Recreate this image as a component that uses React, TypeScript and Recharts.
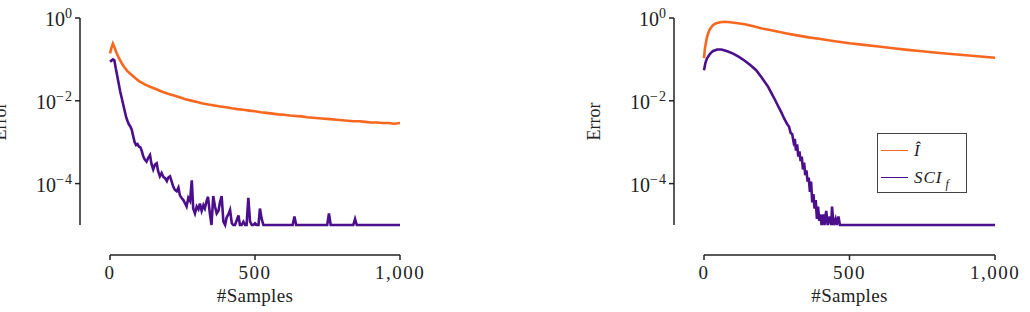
import { LineChart, Line, XAxis, YAxis } from 'recharts';

// left panel: estimator error vs #samples
const leftSamplesI = [0, 5, 10, 15, 20, 30, 40, 50, 60, 70, 80, 90, 100, 120, 140, 160, 180, 200, 220, 240, 260, 280, 300, 320, 340, 360, 380, 400, 420, 440, 460, 480, 500, 520, 540, 560, 580, 600, 620, 640, 660, 680, 700, 720, 740, 760, 780, 800, 820, 840, 860, 880, 900, 920, 940, 960, 980, 1000];
const leftErrI = [0.14, 0.19, 0.24, 0.2, 0.16, 0.11, 0.082, 0.064, 0.052, 0.045, 0.039, 0.034, 0.03, 0.025, 0.0215, 0.019, 0.0165, 0.0148, 0.0135, 0.0122, 0.0109, 0.0101, 0.0094, 0.0086, 0.0081, 0.0077, 0.0073, 0.007, 0.0066, 0.0063, 0.0061, 0.0058, 0.0056, 0.0053, 0.0051, 0.0049, 0.0047, 0.0046, 0.0044, 0.0043, 0.0042, 0.004, 0.0039, 0.0038, 0.0037, 0.0036, 0.0035, 0.0034, 0.0033, 0.0032, 0.0032, 0.0031, 0.003, 0.003, 0.0029, 0.0029, 0.0028, 0.0029];

const leftSamplesS = [0, 10, 15, 20, 25, 30, 35, 40, 45, 50, 55, 60, 65, 70, 75, 80, 85, 90, 95, 100, 105, 110, 115, 120, 126, 132, 138, 143, 149, 155, 161, 166, 172, 178, 184, 190, 196, 201, 207, 213, 218, 224, 230, 236, 241, 247, 253, 259, 264, 270, 276, 282, 287, 293, 299, 305, 310, 316, 322, 327, 333, 338, 344, 350, 356, 362, 368, 374, 379, 385, 391, 397, 402, 408, 414, 420, 425, 431, 437, 443, 448, 454, 460, 466, 471, 477, 483, 489, 494, 500, 506, 512, 517, 523, 529, 535, 630, 636, 642, 749, 755, 761, 839, 845, 851, 1000];
const leftErrS = [0.088, 0.1, 0.095, 0.06, 0.04, 0.026, 0.017, 0.012, 0.0085, 0.006, 0.0042, 0.0033, 0.0027, 0.0024, 0.002, 0.0014, 0.001, 0.00085, 0.0009, 0.00078, 0.00075, 0.0006, 0.00045, 0.00038, 0.00034, 0.00042, 0.00049, 0.0003, 0.00022, 0.00029, 0.00031, 0.0002, 0.00015, 0.00018, 0.000145, 0.000135, 0.000115, 0.00014, 0.00015, 0.00011, 0.000085, 0.00007, 0.000065, 0.00008, 0.000052, 0.000045, 0.00004, 0.000033, 0.000028, 0.000045, 0.000038, 0.00012, 0.000025, 0.000019, 0.000028, 0.000024, 0.000033, 0.000022, 0.00003, 0.000025, 0.000038, 0.000048, 0.00002, 0.00001, 0.00005, 0.000028, 0.000019, 0.000022, 0.000035, 0.00005, 0.000012, 0.00001, 0.000015, 0.000018, 0.000023, 0.000011, 0.00001, 0.00001, 0.000013, 0.000017, 0.00001, 0.00001, 0.000012, 0.00001, 0.00001, 0.000045, 0.000012, 0.00001, 0.00001, 0.000011, 0.00001, 0.00001, 0.000025, 0.000014, 0.00001, 0.00001, 0.00001, 0.000016, 0.00001, 0.00001, 0.000019, 0.00001, 0.00001, 0.000014, 0.00001, 0.00001];

// right panel
const rightSamplesI = [0, 3, 6, 10, 15, 20, 30, 40, 55, 70, 90, 110, 140, 170, 200, 240, 280, 320, 360, 400, 450, 500, 550, 600, 650, 700, 750, 800, 850, 900, 950, 1000];
const rightErrI = [0.107, 0.178, 0.24, 0.34, 0.44, 0.54, 0.66, 0.74, 0.79, 0.81, 0.79, 0.76, 0.71, 0.63, 0.56, 0.49, 0.43, 0.38, 0.34, 0.31, 0.275, 0.245, 0.224, 0.204, 0.186, 0.17, 0.158, 0.145, 0.135, 0.126, 0.117, 0.11];

const rightSamplesS = [0, 5, 10, 20, 30, 45, 60, 80, 100, 120, 140, 160, 180, 200, 220, 240, 255, 265, 275, 285, 292, 298, 303, 308, 312, 316, 320, 324, 328, 332, 336, 340, 344, 348, 352, 356, 360, 364, 368, 372, 376, 380, 384, 388, 392, 396, 400, 404, 410, 414, 420, 425, 432, 437, 440, 445, 452, 456, 462, 467, 1000];
const rightErrS = [0.055, 0.083, 0.105, 0.135, 0.158, 0.174, 0.174, 0.158, 0.138, 0.115, 0.093, 0.072, 0.054, 0.035, 0.022, 0.012, 0.0074, 0.0054, 0.0038, 0.0028, 0.0024, 0.00166, 0.00158, 0.001, 0.0012, 0.00063, 0.00089, 0.00045, 0.0006, 0.00035, 0.00045, 0.00022, 0.00032, 0.00016, 0.00021, 0.000112, 0.00014, 0.000063, 0.000112, 0.000035, 0.000056, 0.000025, 0.00004, 0.000014, 0.000028, 0.0000126, 0.000018, 0.00001, 0.000018, 0.00001, 0.000022, 0.00001, 0.000016, 0.00001, 0.000028, 0.00001, 0.000014, 0.00001, 0.000016, 0.00001, 0.00001];

const xTicks = [0, 500, 1000];
const yTicks = [1, 0.01, 0.0001];

const ORANGE = '#f8671f';
const PURPLE = '#4b0f8c';
const AXIS = '#222';
const FONT = '"Liberation Serif", serif';
const OFF = 30; // spine offset, like despine(offset=...)

const zip = (xs: number[], ys: number[]) => xs.map((x, i) => ({ x, y: ys[i] }));

function YTick({ x, y, payload }: any) {
  const exp = Math.round(Math.log10(payload.value));
  const ax = x - OFF;
  return (
    <g>
      <line x1={ax - 5} x2={ax} y1={y} y2={y} stroke={AXIS} strokeWidth={1.5} />
      <text x={ax - 7} y={y + 8} textAnchor="end" fontFamily={FONT} fontSize={20} fill="#222">
        10<tspan dy={-8} fontSize={14} letterSpacing={1}>{exp === 0 ? '0' : '\u2212' + Math.abs(exp)}</tspan>
      </text>
    </g>
  );
}

function XTick({ x, y, payload }: any) {
  const ay = y + OFF;
  return (
    <g>
      <line x1={x} x2={x} y1={ay} y2={ay + 5} stroke={AXIS} strokeWidth={1.5} />
      <text x={x} y={ay + 24} textAnchor="middle" fontFamily={FONT} fontSize={19} letterSpacing={1.5} fill="#222">
        {payload.value.toLocaleString('en-US')}
      </text>
    </g>
  );
}

function XLabel({ viewBox }: any) {
  return (
    <text x={viewBox.x + viewBox.width / 2} y={viewBox.y + 77} textAnchor="middle" fontFamily={FONT} fontSize={19} letterSpacing={0.3} fill="#222">
      #Samples
    </text>
  );
}

function YLabel({ viewBox }: any) {
  const cx = viewBox.x;
  const cy = viewBox.y + viewBox.height / 2;
  return (
    <text x={cx} y={cy} transform={`rotate(-90 ${cx} ${cy})`} textAnchor="middle" dominantBaseline="central" fontFamily={FONT} fontSize={18} fill="#222">
      Error
    </text>
  );
}

function Panel({ dataI, dataS, left }: { dataI: any[]; dataS: any[]; left: number }) {
  return (
    <LineChart width={515} height={312} margin={{ top: 18, right: left === 0 ? 115 : 35, bottom: 0, left: left === 0 ? 0 : 79 }}>
      <XAxis
        dataKey="x"
        type="number"
        domain={[0, 1000]}
        ticks={xTicks}
        height={87}
        tickSize={0}
        tickMargin={0}
        tickLine={false}
        tick={<XTick />}
        axisLine={{ stroke: AXIS, strokeWidth: 1.5, transform: `translate(0 ${OFF})` }}
        label={<XLabel />}
      />
      <YAxis
        dataKey="y"
        scale="log"
        domain={[0.00001, 1]}
        ticks={yTicks}
        width={110}
        tickSize={0}
        tickMargin={0}
        tickLine={false}
        tick={<YTick />}
        axisLine={{ stroke: AXIS, strokeWidth: 1.5, transform: `translate(${-OFF} 0)` }}
        label={<YLabel />}
      />
      <Line data={dataI} dataKey="y" stroke={ORANGE} strokeWidth={2.6} dot={false} isAnimationActive={false} />
      <Line data={dataS} dataKey="y" stroke={PURPLE} strokeWidth={2.6} dot={false} isAnimationActive={false} />
    </LineChart>
  );
}

function LegendBox() {
  const row = (color: string, label: any, top: number) => (
    <div style={{ position: 'absolute', left: 0, top, width: 90, height: 20 }}>
      <div style={{ position: 'absolute', left: 3, top: 9, width: 27, height: 0, borderTop: `1.5px solid ${color}` }} />
      <div style={{ position: 'absolute', left: 36, top: 0, fontFamily: FONT, fontStyle: 'italic', fontSize: 17, lineHeight: '20px', letterSpacing: 1, color: '#222' }}>{label}</div>
    </div>
  );
  return (
    <div style={{ position: 'absolute', left: 877, top: 133, width: 88, height: 58, border: '1.5px solid #444', background: '#fff' }}>
      {row(ORANGE, 'Î', 7)}
      {row(PURPLE, <span>SCI<sub style={{ fontSize: 12, verticalAlign: '-5px', marginLeft: 3 }}>f</sub></span>, 34)}
    </div>
  );
}

export default function App() {
  return (
    <div style={{ position: 'absolute', left: 0, top: 0, width: 1030, height: 312, background: '#fff' }}>
      <div style={{ position: 'absolute', left: 0, top: 0 }}>
        <Panel dataI={zip(leftSamplesI, leftErrI)} dataS={zip(leftSamplesS, leftErrS)} left={0} />
      </div>
      <div style={{ position: 'absolute', left: 515, top: 0 }}>
        <Panel dataI={zip(rightSamplesI, rightErrI)} dataS={zip(rightSamplesS, rightErrS)} left={515} />
      </div>
      <LegendBox />
    </div>
  );
}
